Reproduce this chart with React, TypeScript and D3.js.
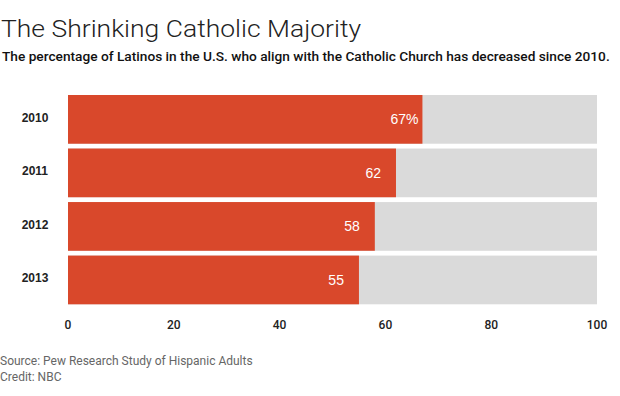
import React from "react";
import * as d3 from "d3";

const years = ["2010", "2011", "2012", "2013"];
const values = [67, 62, 58, 55];
const valueLabels = ["67%", "62", "58", "55"];
const ticks = [0, 20, 40, 60, 80, 100];

const W = 620;
const H = 396;

export default function App() {
  const x = d3.scaleLinear().domain([0, 100]).range([68, 597]);
  const y = d3.scaleBand<string>().domain(years).range([95, 304.3]).paddingInner(0.09).paddingOuter(0);
  const bw = y.bandwidth();
  return (
    <svg width={W} height={H} style={{ position: "absolute", left: 0, top: 0 }}>
      <rect width={W} height={H} fill="#ffffff" />
      <text x={1} y={37} fontFamily="Roboto" fontWeight={300} fontSize={24.5} fill="#222" textLength={360} lengthAdjust="spacingAndGlyphs">
        The Shrinking Catholic Majority
      </text>
      <text x={2} y={61} fontFamily="Roboto" fontWeight={500} fontSize={13.7} fill="#111">
        The percentage of Latinos in the U.S. who align with the Catholic Church has decreased since 2010.
      </text>
      {years.map((yr, i) => {
        const y0 = y(yr) as number;
        const cy = y0 + bw / 2;
        return (
          <g key={yr}>
            <rect x={x(0)} y={y0} width={x(100) - x(0)} height={bw} fill="#dadada" />
            <rect x={x(0)} y={y0} width={x(values[i]) - x(0)} height={bw} fill="#d9482b" />
            <text x={35} y={cy + 2.5} textAnchor="middle" fontFamily="Liberation Sans, Arial" fontWeight={700} fontSize={12} fill="#222">
              {yr}
            </text>
            <text x={x(values[i]) - 4 - (i === 0 ? 0 : 11)} y={cy + 5} textAnchor="end" fontFamily="Liberation Sans, Arial" fontSize={14} fill="#ffffff">
              {valueLabels[i]}
            </text>
          </g>
        );
      })}
      {ticks.map((t) => (
        <text key={t} x={x(t)} y={329} textAnchor="middle" fontFamily="Roboto" fontWeight={500} fontSize={12} fill="#222">
          {t}
        </text>
      ))}
      <text x={0} y={365} fontFamily="Roboto" fontSize={12} fill="#666">
        Source: Pew Research Study of Hispanic Adults
      </text>
      <text x={0} y={381} fontFamily="Roboto" fontSize={12} fill="#666">
        Credit: NBC
      </text>
    </svg>
  );
}
